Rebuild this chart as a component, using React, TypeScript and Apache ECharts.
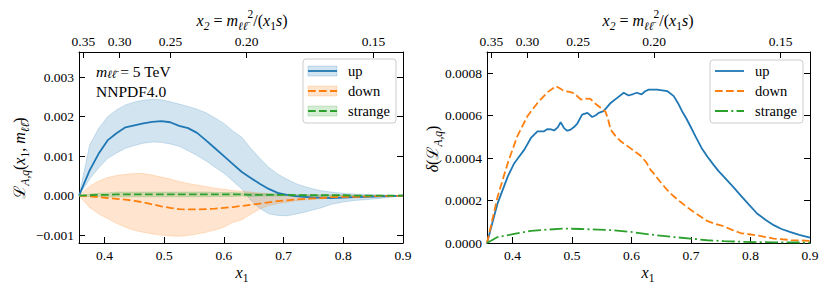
import React, { useEffect, useRef } from "react";
import * as echarts from "echarts";

const TAU = 0.1276;
const X_MIN = 0.3572;
const X_MAX = 0.9;

const xTicks = [0.4, 0.5, 0.6, 0.7, 0.8, 0.9];
const x2Ticks = [0.35, 0.3, 0.25, 0.2, 0.15];
const leftYTicks = [-0.001, 0, 0.001, 0.002, 0.003];
const rightYTicks = [0, 0.0002, 0.0004, 0.0006, 0.0008];

// Left panel: luminosity central values and bands
const xL = [0.3572, 0.375, 0.39, 0.405, 0.42, 0.435, 0.45, 0.465, 0.48, 0.495, 0.51, 0.525, 0.54, 0.555, 0.57, 0.585, 0.6, 0.615, 0.63, 0.645, 0.66, 0.675, 0.69, 0.705, 0.72, 0.735, 0.75, 0.765, 0.78, 0.8, 0.82, 0.84, 0.86, 0.88, 0.9];
const upMid = [0, 0.00064, 0.00106, 0.0014, 0.00158, 0.00173, 0.00178, 0.00183, 0.00187, 0.00189, 0.00186, 0.00177, 0.00171, 0.00159, 0.0014, 0.0012, 0.001, 0.0008, 0.0006, 0.00045, 0.0003, 0.00017, 0.00007, 0.00002, -0.00001, -0.00003, -0.00005, -0.00005, -0.00006, -0.00005, -0.00004, -0.00003, -0.00002, -0.00001, 0];
const upHi = [0, 0.00128, 0.0017, 0.002, 0.00217, 0.0023, 0.00237, 0.00242, 0.00244, 0.00243, 0.00238, 0.00232, 0.00226, 0.00219, 0.0021, 0.00197, 0.00183, 0.00164, 0.00148, 0.0012, 0.00095, 0.00072, 0.00055, 0.00042, 0.00031, 0.00023, 0.00017, 0.00012, 0.00009, 0.00006, 0.00004, 0.00003, 0.00002, 0.00001, 0];
const upLo = [0, 0.00042, 0.0007, 0.00094, 0.00108, 0.0012, 0.00127, 0.00133, 0.00136, 0.00135, 0.00131, 0.00125, 0.00114, 0.00102, 0.00088, 0.00072, 0.00057, 0.00037, 0.00017, -0.00012, -0.00032, -0.00046, -0.0005, -0.00051, -0.00047, -0.00042, -0.00036, -0.0003, -0.00022, -0.00016, -0.00012, -0.0001, -0.00007, -0.00004, -0.00001];
const downMid = [0, -0.00002, -0.00004, -0.00006, -0.00008, -0.0001, -0.00013, -0.00017, -0.00022, -0.00027, -0.00031, -0.00034, -0.00035, -0.00035, -0.00034, -0.00033, -0.00031, -0.00029, -0.00026, -0.00023, -0.0002, -0.00017, -0.00014, -0.00012, -0.0001, -0.00008, -0.00007, -0.00006, -0.00004, -0.00003, -0.00003, -0.00002, -0.00001, -0.00001, 0];
const downHi = [0, 0.00024, 0.00037, 0.00046, 0.00051, 0.00054, 0.00056, 0.00056, 0.00052, 0.00047, 0.00042, 0.00036, 0.00031, 0.00027, 0.00023, 0.00019, 0.00016, 0.00013, 0.00011, 0.00009, 0.00007, 0.00005, 0.00003, 0.00002, 0.00001, 0.00001, 0.00001, 0.00001, 0.00001, 0, 0, 0, 0, 0, 0];
const downLo = [0, -0.0003, -0.00046, -0.00058, -0.0007, -0.0008, -0.00088, -0.00093, -0.00097, -0.001, -0.00102, -0.00103, -0.00101, -0.00097, -0.00093, -0.00087, -0.0008, -0.00068, -0.00061, -0.00047, -0.00034, -0.00025, -0.0002, -0.00017, -0.00013, -0.00011, -0.00009, -0.00008, -0.00006, -0.00005, -0.00004, -0.00003, -0.00002, -0.00001, 0];
const strangeMid = [0, 0.00001, 0.00002, 0.00002, 0.00003, 0.00003, 0.00003, 0.00003, 0.00003, 0.00003, 0.00003, 0.00003, 0.00003, 0.00003, 0.00003, 0.00003, 0.00003, 0.00003, 0.00003, 0.00002, 0.00002, 0.00002, 0.00002, 0.00002, 0.00001, 0.00001, 0.00001, 0.00001, 0.00001, 0.00001, 0, 0, 0, 0, 0];
const strangeHi = [0, 0.00004, 0.00006, 0.00007, 0.00009, 0.00009, 0.00009, 0.00009, 0.00009, 0.00009, 0.00009, 0.00009, 0.00009, 0.00009, 0.00009, 0.00008, 0.00008, 0.00008, 0.00007, 0.00006, 0.00005, 0.00005, 0.00005, 0.00004, 0.00003, 0.00003, 0.00002, 0.00002, 0.00002, 0.00002, 0.00001, 0, 0, 0, 0];
const strangeLo = [0, -0.00002, -0.00002, -0.00003, -0.00003, -0.00003, -0.00003, -0.00003, -0.00003, -0.00003, -0.00003, -0.00003, -0.00003, -0.00003, -0.00003, -0.00002, -0.00002, -0.00002, -0.00001, -0.00002, -0.00001, -0.00001, -0.00001, 0, -0.00001, -0.00001, 0, 0, 0, 0, -0.00001, 0, 0, 0, 0];

// Right panel: uncertainties
const xUpD = [0.3572, 0.375, 0.392, 0.403, 0.412, 0.42, 0.431, 0.442, 0.453, 0.459, 0.465, 0.47, 0.476, 0.481, 0.487, 0.492, 0.497, 0.503, 0.509, 0.517, 0.526, 0.534, 0.54, 0.545, 0.553, 0.559, 0.565, 0.576, 0.587, 0.595, 0.603, 0.609, 0.617, 0.623, 0.629, 0.643, 0.66, 0.671, 0.678, 0.685, 0.692, 0.699, 0.708, 0.718, 0.728, 0.738, 0.746, 0.755, 0.769, 0.783, 0.797, 0.811, 0.825, 0.839, 0.852, 0.866, 0.882, 0.9];
const upD = [0, 0.000187, 0.000313, 0.000376, 0.00041, 0.00044, 0.000495, 0.000526, 0.000526, 0.000537, 0.000535, 0.00053, 0.000545, 0.000569, 0.00054, 0.000529, 0.000533, 0.000545, 0.000563, 0.000605, 0.000613, 0.000594, 0.000602, 0.000613, 0.000621, 0.00064, 0.00066, 0.000684, 0.000708, 0.000695, 0.000702, 0.000708, 0.0007, 0.000715, 0.000723, 0.000723, 0.000716, 0.000692, 0.00066, 0.000621, 0.000588, 0.00055, 0.0005, 0.000447, 0.000405, 0.000368, 0.00034, 0.000313, 0.00027, 0.000226, 0.000182, 0.000139, 0.00011, 0.000084, 0.000066, 0.000052, 0.000038, 0.000025];
const xDownD = [0.3572, 0.375, 0.392, 0.408, 0.425, 0.442, 0.459, 0.473, 0.48, 0.487, 0.496, 0.504, 0.515, 0.522, 0.531, 0.54, 0.548, 0.556, 0.56, 0.565, 0.573, 0.582, 0.598, 0.615, 0.625, 0.632, 0.637, 0.648, 0.66, 0.671, 0.682, 0.693, 0.704, 0.716, 0.727, 0.741, 0.755, 0.769, 0.783, 0.811, 0.839, 0.868, 0.9];
const downD = [0, 0.000218, 0.000376, 0.000502, 0.000597, 0.00066, 0.000711, 0.000739, 0.000728, 0.000716, 0.000712, 0.000705, 0.000676, 0.00068, 0.000679, 0.000655, 0.000637, 0.00062, 0.00059, 0.000534, 0.000505, 0.000479, 0.000447, 0.000412, 0.00038, 0.000345, 0.000329, 0.00029, 0.00025, 0.00022, 0.000194, 0.00017, 0.000147, 0.000125, 0.000104, 0.00009, 0.000079, 0.000062, 0.000047, 0.000036, 0.000021, 0.000014, 0.00001];
const xStrangeD = [0.3572, 0.375, 0.403, 0.431, 0.459, 0.487, 0.515, 0.543, 0.571, 0.599, 0.629, 0.643, 0.671, 0.699, 0.727, 0.755, 0.783, 0.839, 0.9];
const strangeD = [0, 0.000028, 0.000043, 0.000057, 0.000063, 0.000068, 0.000066, 0.000063, 0.00006, 0.000052, 0.000041, 0.000036, 0.000028, 0.000021, 0.000013, 0.000009, 0.000006, 0.000003, 0.000002];

const F = "'Liberation Serif','DejaVu Serif',serif";
const BLUE = "#1f77b4";
const ORANGE = "#ff7f0e";
const GREEN = "#2ca02c";
const DASH = [7.7, 3.3];
const DASHDOT = [13, 3.3, 2, 3.3];

function makeRich(size: number, lh: number, subSize: number, subLh: number): any {
  return {
    i: { fontFamily: F, fontStyle: "italic", fontSize: size, lineHeight: lh, fill: "#000" },
    r: { fontFamily: F, fontSize: size, lineHeight: lh, fill: "#000" },
    L: { fontFamily: F, fontSize: size, lineHeight: lh, fill: "#000" },
    sub: { fontFamily: F, fontStyle: "italic", fontSize: subSize, lineHeight: subLh, verticalAlign: "bottom", fill: "#000" },
    subr: { fontFamily: F, fontSize: subSize, lineHeight: subLh, verticalAlign: "bottom", fill: "#000" },
    sup: { fontFamily: F, fontSize: subSize, lineHeight: subLh, verticalAlign: "top", fill: "#000" },
  };
}
const MATH_RICH = makeRich(16, 24, 11.5, 12);
const NOTE_RICH = makeRich(15.5, 17, 11, 9);

function pairs(xs: number[], ys: number[]) {
  return xs.map((x, i) => [x, ys[i]]);
}

function band(xi: number, yi: number, xs: number[], lo: number[], hi: number[], fill: string) {
  return {
    type: "custom",
    xAxisIndex: xi,
    yAxisIndex: yi,
    clip: true,
    silent: true,
    z: 1,
    data: xs.map((x, i) => [x, lo[i], hi[i]]),
    encode: { x: 0, y: [1, 2] },
    renderItem: (params: any, api: any) => {
      if (params.dataIndex !== 0) return null;
      const top = xs.map((x, i) => api.coord([x, hi[i]]));
      const bot = xs.map((x, i) => api.coord([x, lo[i]])).reverse();
      return {
        type: "polygon",
        shape: { points: top.concat(bot) },
        style: { fill, stroke: fill, lineWidth: 1 },
      };
    },
  };
}

function line(name: string, xi: number, yi: number, xs: number[], ys: number[], color: string, type: any) {
  return {
    name,
    type: "line",
    xAxisIndex: xi,
    yAxisIndex: yi,
    data: pairs(xs, ys),
    showSymbol: false,
    symbol: "none",
    clip: true,
    z: 3,
    lineStyle: { color, width: 1.8, type, cap: "butt" },
  };
}

const tickLabel = { color: "#000", fontFamily: F, fontSize: 13.5 };

function xBottom(gridIndex: number) {
  return {
    type: "value",
    gridIndex,
    position: "bottom",
    min: X_MIN,
    max: X_MAX,
    axisLine: { show: true, onZero: false, lineStyle: { color: "#000", width: 1 } },
    axisTick: { show: true, inside: true, length: 6, customValues: xTicks, lineStyle: { color: "#000", width: 1 } },
    axisLabel: { show: true, margin: 5, customValues: xTicks, formatter: (v: number) => v.toFixed(1), ...tickLabel },
    splitLine: { show: false },
  };
}

function xTop(gridIndex: number) {
  const pos = x2Ticks.map((v) => TAU / v);
  return {
    type: "value",
    gridIndex,
    position: "top",
    min: X_MIN,
    max: X_MAX,
    axisLine: { show: true, onZero: false, lineStyle: { color: "#000", width: 1 } },
    axisTick: { show: true, inside: true, length: 6, customValues: pos, lineStyle: { color: "#000", width: 1 } },
    axisLabel: { show: true, margin: 4, customValues: pos, formatter: (v: number) => (TAU / v).toFixed(2), ...tickLabel },
    splitLine: { show: false },
  };
}

function yAxis(gridIndex: number, position: string, min: number, max: number, ticks: number[], digits: number, labels: boolean) {
  return {
    type: "value",
    gridIndex,
    position,
    min,
    max,
    axisLine: { show: true, onZero: false, lineStyle: { color: "#000", width: 1 } },
    axisTick: { show: true, inside: true, length: 6, customValues: ticks, lineStyle: { color: "#000", width: 1 } },
    axisLabel: {
      show: labels,
      margin: 5,
      customValues: ticks,
      formatter: (v: number) => (v < 0 ? "\u2212" + (-v).toFixed(digits) : Math.abs(v).toFixed(digits)),
      ...tickLabel,
    },
    splitLine: { show: false },
  };
}

function mathText(x: number, y: number, text: string, rotation = 0, align = "center", rich: any = MATH_RICH) {
  return {
    type: "text",
    x,
    y,
    rotation,
    silent: true,
    style: { text, rich, align, verticalAlign: "middle", fontFamily: F, fontSize: 16, fill: "#000" },
  };
}

function legendBox(x: number, y: number, w: number, h: number) {
  return {
    type: "rect",
    shape: { x, y, width: w, height: h, r: 3 },
    style: { fill: "rgba(255,255,255,0.8)", stroke: "#cccccc", lineWidth: 1 },
    z: 10,
  };
}

function legendEntry(x: number, y: number, label: string, color: string, dash: any, patch: string | null, textX: number) {
  const items: any[] = [];
  if (patch) {
    items.push({ type: "rect", shape: { x, y: y - 5, width: 29, height: 10 }, style: { fill: patch, stroke: patch, lineWidth: 1 }, z: 11 });
  }
  items.push({
    type: "line",
    shape: { x1: x, y1: y, x2: x + 29, y2: y },
    style: { stroke: color, lineWidth: 1.8, lineDash: dash },
    z: 12,
  });
  items.push({
    type: "text",
    x: textX,
    y,
    style: { text: label, fontFamily: F, fontSize: 14.5, fill: "#000", align: "left", verticalAlign: "middle" },
    z: 12,
  });
  return items;
}

export default function App() {
  const ref = useRef<HTMLDivElement>(null);
  useEffect(() => {
    document.body.style.margin = "0";
    const chart = echarts.init(ref.current!, undefined, { renderer: "svg" });
    const bandBlue = "rgba(31,119,180,0.2)";
    const bandOrange = "rgba(255,127,14,0.2)";
    const bandGreen = "rgba(44,160,44,0.2)";
    const x2Title = "{i|x}{sub|2}{r| = }{i|m}{sub|ℓℓ\u0304}{sup|2}{r|/(}{i|x}{subr|1}{i|s}{r|)}";
    const option: any = {
      animation: false,
      backgroundColor: "#fff",
      grid: [
        { left: 79, top: 52, width: 324, height: 191 },
        { left: 487, top: 52, width: 323, height: 191 },
      ],
      xAxis: [xBottom(0), xTop(0), xBottom(1), xTop(1)],
      yAxis: [
        yAxis(0, "left", -0.0012, 0.00364, leftYTicks, 3, true),
        yAxis(0, "right", -0.0012, 0.00364, leftYTicks, 3, false),
        yAxis(1, "left", 0, 0.0009, rightYTicks, 4, true),
        yAxis(1, "right", 0, 0.0009, rightYTicks, 4, false),
      ],
      series: [
        band(0, 0, xL, upLo, upHi, bandBlue),
        line("up", 0, 0, xL, upMid, BLUE, "solid"),
        band(0, 0, xL, downLo, downHi, bandOrange),
        line("down", 0, 0, xL, downMid, ORANGE, DASH),
        band(0, 0, xL, strangeLo, strangeHi, bandGreen),
        line("strange", 0, 0, xL, strangeMid, GREEN, DASH),
        line("up ", 2, 2, xUpD, upD, BLUE, "solid"),
        line("down ", 2, 2, xDownD, downD, ORANGE, DASH),
        line("strange ", 2, 2, xStrangeD, strangeD, GREEN, DASHDOT),
      ],
      graphic: [
        mathText(242, 20, x2Title),
        mathText(648, 20, x2Title),
        mathText(242, 272, "{i|x}{subr|1}"),
        mathText(648, 272, "{i|x}{subr|1}"),
        mathText(19, 158, "{L|ℒ}{sub|A,q}{r|(}{i|x}{subr|1}{r|, }{i|m}{sub|ℓℓ\u0304}{r|)}", Math.PI / 2),
        mathText(432, 149, "{i|δ}{r|(}{L|ℒ}{sub|A,q}{r|)}", Math.PI / 2),
        mathText(96, 71, "{i|m}{sub|ℓℓ\u0304}{r| = 5 TeV}", 0, "left", NOTE_RICH),
        {
          type: "text",
          x: 96,
          y: 91,
          style: { text: "NNPDF4.0", fontFamily: F, fontSize: 15.5, fill: "#000", align: "left", verticalAlign: "middle" },
        },
        legendBox(303, 59, 93, 64),
        ...legendEntry(308, 71, "up", BLUE, null, bandBlue, 348),
        ...legendEntry(308, 91, "down", ORANGE, DASH, bandOrange, 348),
        ...legendEntry(308, 111, "strange", GREEN, DASH, bandGreen, 348),
        legendBox(710, 60, 93, 63),
        ...legendEntry(715, 71, "up", BLUE, null, null, 755),
        ...legendEntry(715, 91, "down", ORANGE, DASH, null, 755),
        ...legendEntry(715, 111, "strange", GREEN, DASHDOT, null, 755),
      ],
    };
    chart.setOption(option);
    return () => chart.dispose();
  }, []);
  return <div ref={ref} style={{ width: 830, height: 291 }} />;
}
